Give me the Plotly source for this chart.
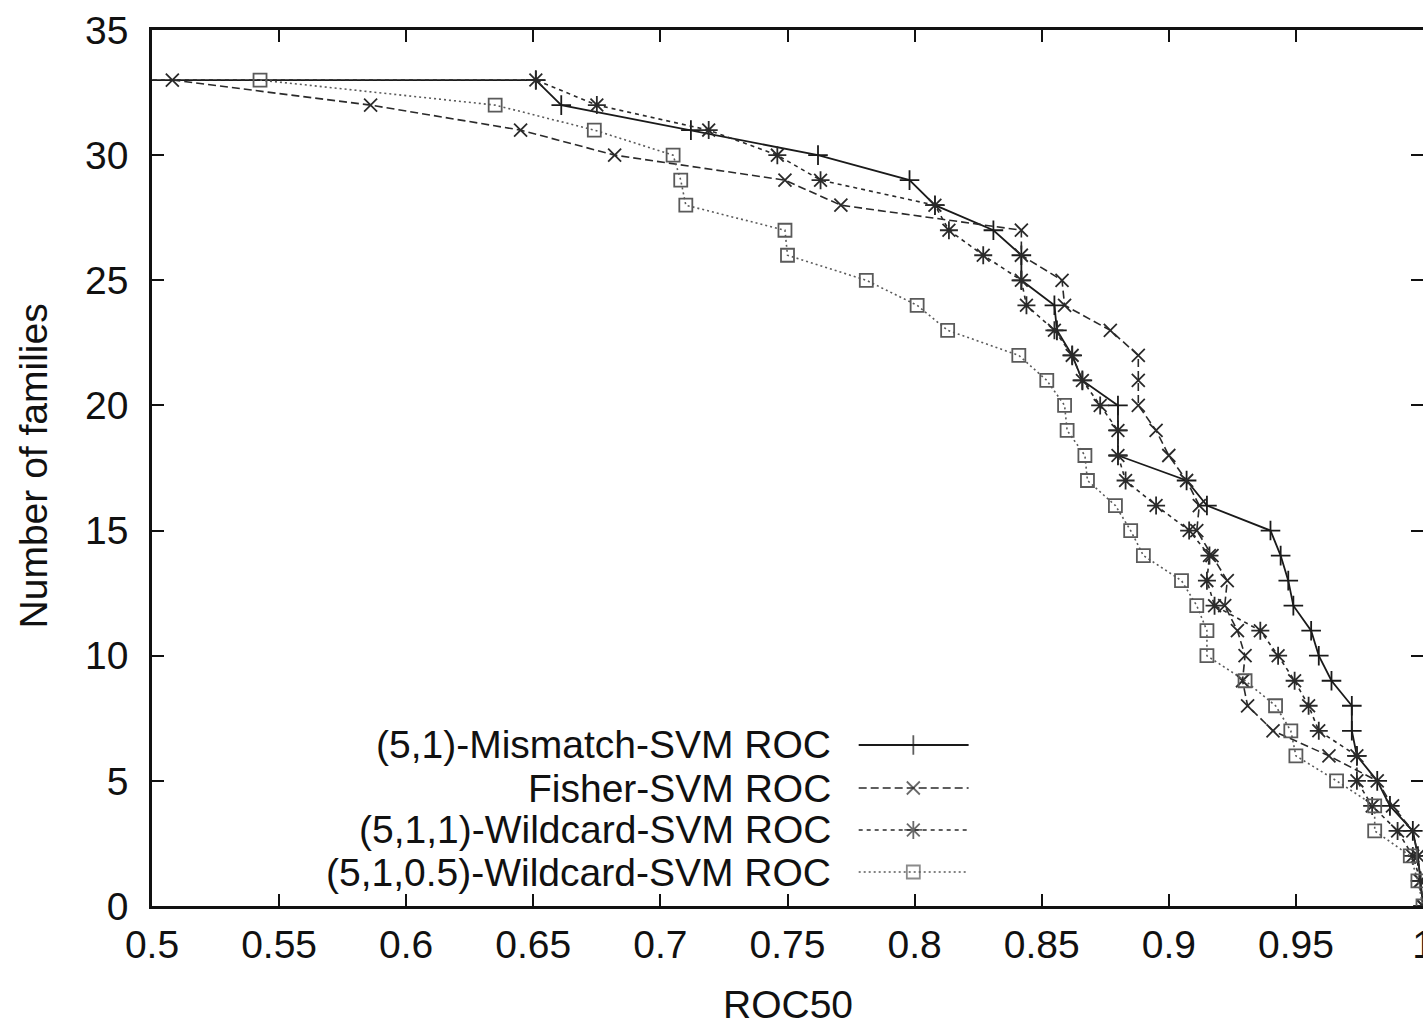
import plotly.graph_objects as go

# ---------------- data ----------------
families = list(range(33, -1, -1))  # 33 ... 0

mismatch_x = [0.45, 0.651, 0.661, 0.712, 0.762, 0.798, 0.808, 0.831, 0.842, 0.842,
              0.855, 0.856, 0.862, 0.866, 0.880, 0.880, 0.880, 0.907, 0.915, 0.940,
              0.944, 0.947, 0.949, 0.956, 0.959, 0.964, 0.972, 0.972, 0.974, 0.982,
              0.987, 0.996, 0.998, 0.999, 1.0]
mismatch_y = [33] + families

fisher_x = [0.508, 0.586, 0.645, 0.682, 0.749, 0.771, 0.842, 0.842, 0.858, 0.859,
            0.877, 0.888, 0.888, 0.888, 0.895, 0.900, 0.907, 0.912, 0.911, 0.917,
            0.923, 0.922, 0.927, 0.930, 0.929, 0.931, 0.941, 0.963, 0.982, 0.988,
            0.996, 0.998, 0.999, 1.0]
fisher_y = families

wild1_x = [0.45, 0.651, 0.675, 0.719, 0.746, 0.763, 0.808, 0.8135, 0.827, 0.842,
           0.844, 0.855, 0.862, 0.866, 0.873, 0.880, 0.880, 0.883, 0.895, 0.908,
           0.916, 0.915, 0.918, 0.936, 0.943, 0.9495, 0.955, 0.959, 0.974, 0.974,
           0.980, 0.990, 0.996, 0.999, 1.0]
wild1_y = [33] + families

wild05_x = [0.5425, 0.635, 0.674, 0.705, 0.708, 0.710, 0.749, 0.750, 0.781, 0.801,
            0.813, 0.841, 0.852, 0.859, 0.860, 0.867, 0.868, 0.879, 0.885, 0.890,
            0.905, 0.911, 0.915, 0.915, 0.930, 0.942, 0.948, 0.950, 0.966, 0.981,
            0.981, 0.995, 0.998, 1.0]
wild05_y = families

series_names = ["(5,1)-Mismatch-SVM ROC", "Fisher-SVM ROC",
                "(5,1,1)-Wildcard-SVM ROC", "(5,1,0.5)-Wildcard-SVM ROC"]

x_ticks = [0.5, 0.55, 0.6, 0.65, 0.7, 0.75, 0.8, 0.85, 0.9, 0.95, 1.0]
x_tick_text = ["0.5", "0.55", "0.6", "0.65", "0.7", "0.75", "0.8", "0.85", "0.9", "0.95", "1"]
y_ticks = [0, 5, 10, 15, 20, 25, 30, 35]

# ---------------- styles ----------------
FONT = "Liberation Sans, Arial, Helvetica, sans-serif"
styles = [
    dict(color="#1a1a1a", dash="solid", width=1.8, symbol="cross-thin-open", size=14),
    dict(color="#2a2a2a", dash="8px,4px", width=1.6, symbol="x-thin-open", size=13),
    dict(color="#2a2a2a", dash="4px,4px", width=1.6, symbol="asterisk-open", size=15),
    dict(color="#5a5a5a", dash="2px,3px", width=1.6, symbol="square-open", size=13),
]
data = [(mismatch_x, mismatch_y), (fisher_x, fisher_y), (wild1_x, wild1_y), (wild05_x, wild05_y)]

fig = go.Figure()
for (xs, ys), st, name in zip(data, styles, series_names):
    fig.add_trace(go.Scatter(
        x=xs, y=ys, mode="lines+markers", name=name, showlegend=False,
        line=dict(color=st["color"], dash=st["dash"], width=st["width"]),
        marker=dict(symbol=st["symbol"], size=st["size"],
                    line=dict(color=st["color"], width=1.8), color=st["color"]),
        cliponaxis=True,
    ))

# ---------------- gnuplot-style legend (text left, sample right) ----------------
leg_rows = [0.1838, 0.1347, 0.0868, 0.0388]
sx0, sxm, sx1, tx = 0.556, 0.599, 0.6425, 0.536
for st, name, ry in zip(styles, series_names, leg_rows):
    fig.add_trace(go.Scatter(
        x=[sx0, sxm, sx1], y=[ry, ry, ry], xaxis="x2", yaxis="y2",
        mode="lines+markers", showlegend=False, hoverinfo="skip",
        line=dict(color=st["color"], dash=st["dash"], width=st["width"]),
        marker=dict(symbol=st["symbol"], size=[0, st["size"], 0],
                    line=dict(color=st["color"], width=1.8), color=st["color"]),
    ))
    fig.add_annotation(x=tx, y=ry, xref="paper", yref="paper", text=name,
                       showarrow=False, xanchor="right", yanchor="middle",
                       font=dict(family=FONT, size=39, color="#111"))

# axis titles
fig.add_annotation(x=0.5, y=-0.113, xref="paper", yref="paper", text="ROC50",
                   showarrow=False, xanchor="center", yanchor="middle",
                   font=dict(family=FONT, size=39, color="#111"))
fig.add_annotation(x=-0.0935, y=0.502, xref="paper", yref="paper", text="Number of families",
                   showarrow=False, xanchor="center", yanchor="middle", textangle=-90,
                   font=dict(family=FONT, size=39, color="#111"))

axis_common = dict(showgrid=False, zeroline=False, showline=True, linecolor="#111",
                   linewidth=2.5, mirror="allticks", ticks="inside", ticklen=12,
                   tickwidth=2, tickcolor="#111", ticklabeloverflow="allow",
                   automargin=False,
                   tickfont=dict(family=FONT, size=39, color="#111"))

fig.update_layout(
    width=1423, height=1026,
    margin=dict(l=152, r=0, t=30, b=120, autoexpand=False),
    paper_bgcolor="white", plot_bgcolor="white",
    xaxis=dict(range=[0.5, 1.0], tickvals=x_ticks, ticktext=x_tick_text,
               ticklabelstandoff=2, **axis_common),
    yaxis=dict(range=[0, 35], tickvals=y_ticks, ticklabelstandoff=13, **axis_common),
    xaxis2=dict(range=[0, 1], overlaying="x", visible=False, fixedrange=True),
    yaxis2=dict(range=[0, 1], overlaying="y", visible=False, fixedrange=True),
    showlegend=False,
)

fig.write_html("out.html", config={"displayModeBar": False},
               post_script="document.body.style.margin='0';")
